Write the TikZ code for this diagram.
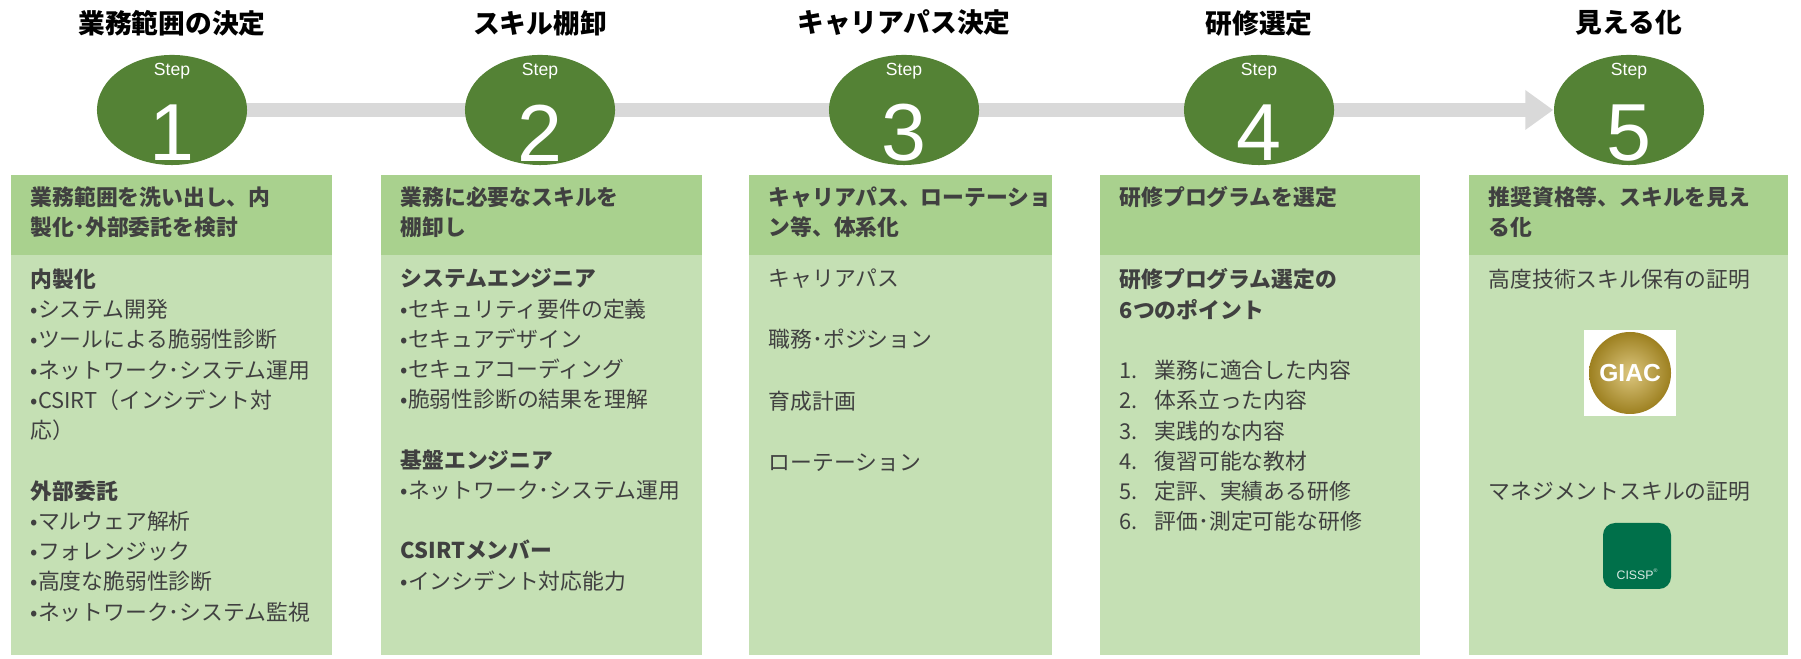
\documentclass[tikz,border=0pt]{standalone}
\usepackage{fontspec}
\setmainfont{Noto Sans CJK JP}
\newfontfamily\latinfont{Liberation Sans}
\usetikzlibrary{shapes.geometric,arrows.meta,backgrounds}
\definecolor{stepgreen}{RGB}{84,130,53}
\definecolor{headgreen}{RGB}{169,209,142}
\definecolor{bodygreen}{RGB}{197,224,180}
\definecolor{textgray}{RGB}{64,64,64}
\definecolor{barGray}{RGB}{217,217,217}
\definecolor{cisspgreen}{RGB}{0,112,74}
\definecolor{giacgold}{RGB}{196,160,40}
\tikzset{
  stepcircle/.style={ellipse,fill=stepgreen,minimum width=1.5cm,minimum height=1.1cm,inner sep=0},
  steptitle/.style={font=\fontsize{7.6}{9}\selectfont\bfseries},
  headbox/.style={fill=headgreen},
  bodybox/.style={fill=bodygreen},
  headtext/.style={anchor=north west,inner sep=0,align=left,text=textgray,
    font=\fontsize{6.2}{8.6}\selectfont\bfseries},
  bodytext/.style={anchor=north west,inner sep=0,align=left,text=textgray,
    font=\fontsize{6.2}{8.6}\selectfont},
}
\newcommand{\numitem}[2]{\makebox[0.35cm][l]{#1}#2}
\begin{document}
\begin{tikzpicture}[x=0.01cm,y=-0.01cm]
\useasboundingbox (0,0) rectangle (1801,659);
% columns
\foreach \xl/\xr in {11/332,381/702,749/1052,1100/1420,1469/1788} {
  \fill[headbox] (\xl,175) rectangle (\xr,255);
  \fill[bodybox] (\xl,255) rectangle (\xr,655);
}
% steps
\foreach \x/\n/\t in {172/1/業務範囲の決定,540/2/スキル棚卸,904/3/キャリアパス決定,1259/4/研修選定,1629/5/見える化} {
  \node[stepcircle] (s\n) at (\x,110) {};
  \node[white,font=\latinfont\fontsize{5}{6}\selectfont] (st\n) at (\x,71) {Step};
  \node[white,font=\latinfont\fontsize{23}{24}\selectfont] (d\n) at (\x,133) {\n};
  \node[steptitle] (t\n) at (\x,23) {\t};
}
\begin{scope}[on background layer]
\draw[barGray,line width=0.14cm,-{Triangle[length=0.28cm,width=0.38cm]}] (s1.center) -- (s5.west);
\end{scope}
% headers
\node[headtext] (h1) at (30,186) {業務範囲を洗い出し、内\\製化･外部委託を検討};
\node[headtext] (h2) at (400,186) {業務に必要なスキルを\\棚卸し};
\node[headtext] (h3) at (768,186) {キャリアパス、ローテーショ\\ン等、体系化};
\node[headtext] (h4) at (1119,186) {研修プログラムを選定};
\node[headtext] (h5) at (1488,186) {推奨資格等、スキルを見え\\る化};
% bodies
\node[bodytext] (b1) at (30,268) {\textbf{内製化}\\•システム開発\\•ツールによる脆弱性診断\\•ネットワーク･システム運用\\•CSIRT（インシデント対\\応）\\[8.6pt]
  \textbf{外部委託}\\•マルウェア解析\\•フォレンジック\\•高度な脆弱性診断\\•ネットワーク･システム監視};
\node[bodytext] (b2) at (400,268) {\textbf{システムエンジニア}\\•セキュリティ要件の定義\\•セキュアデザイン\\•セキュアコーディング\\•脆弱性診断の結果を理解\\[8.6pt]
  \textbf{基盤エンジニア}\\•ネットワーク･システム運用\\[8.6pt]\textbf{CSIRTメンバー}\\•インシデント対応能力};
\node[bodytext] (b3) at (768,268) {キャリアパス\\[8.9pt]職務･ポジション\\[8.9pt]育成計画\\[8.9pt]ローテーション};
\node[bodytext] (b4) at (1119,268) {\textbf{研修プログラム選定の}\\\textbf{6つのポイント}\\[8.6pt]
  \numitem{1.}{業務に適合した内容}\\\numitem{2.}{体系立った内容}\\\numitem{3.}{実践的な内容}\\\numitem{4.}{復習可能な教材}\\\numitem{5.}{定評、実績ある研修}\\\numitem{6.}{評価･測定可能な研修}};
\node[bodytext] (b5) at (1488,268) {高度技術スキル保有の証明};
\node[bodytext] (m5) at (1488,481) {マネジメントスキルの証明};
% logos
\fill[white] (1584,330) rectangle (1676,416);
\shade[inner color=giacgold!60,outer color=giacgold!80!black] (1630,373) circle (41);
\node[white,font=\latinfont\bfseries\fontsize{7}{8}\selectfont] (giac) at (1630,373) {GIAC};
\fill[cisspgreen,rounded corners=0.12cm] (1603,523) rectangle (1671,589);
\node[white!85!cisspgreen,font=\latinfont\fontsize{3.5}{4}\selectfont] (cissp) at (1637,574) {CISSP\raisebox{2pt}{\fontsize{1.5}{2}\selectfont ®}};
\end{tikzpicture}
\end{document}
